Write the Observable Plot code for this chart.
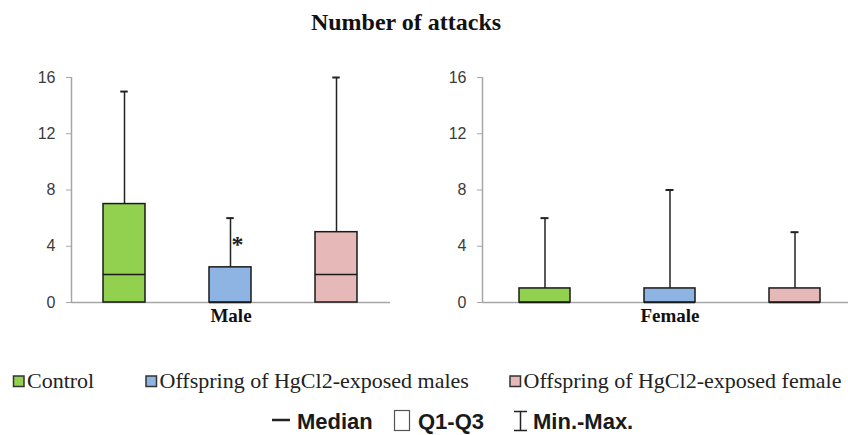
<!DOCTYPE html>
<html>
<head>
<meta charset="utf-8">
<script src="https://cdn.jsdelivr.net/npm/d3@7"></script>
<script src="https://cdn.jsdelivr.net/npm/@observablehq/plot@0.6"></script>
<style>
  html, body { margin: 0; padding: 0; background: #fff; overflow: hidden; }
  #root { position: relative; width: 848px; height: 435px; overflow: hidden; background: #fff; }
  .panel { position: absolute; top: 0; }
  #overlay { position: absolute; left: 0; top: 0; pointer-events: none; }
</style>
</head>
<body>
<div id="root"></div>
<script>
// ---- data ----
const title = "Number of attacks";
const groups = ["Male", "Female"];
const treatments = ["Control", "Offspring of HgCl2-exposed males", "Offspring of HgCl2-exposed female"];
const colors = ["#92D050", "#8DB4E2", "#E6B9B8"];
const yTicks = [0, 4, 8, 12, 16];

const maleMin = [0, 0, 0];
const maleQ1 = [0, 0, 0];
const maleMedian = [2, 0, 2];
const maleQ3 = [7, 2.5, 5];
const maleMax = [15, 6, 16];
const maleSignif = ["", "*", ""];

const femaleMin = [0, 0, 0];
const femaleQ1 = [0, 0, 0];
const femaleMedian = [0, 0, 0];
const femaleQ3 = [1, 1, 1];
const femaleMax = [6, 8, 5];
const femaleSignif = ["", "", ""];

const legendKeys = ["Median", "Q1-Q3", "Min.-Max."];

// ---- drawing ----
const root = document.getElementById("root");
const H = 340, MT = 77, MB = 38;
const serif = "'Liberation Serif', 'Times New Roman', serif";
const sans = "'Liberation Sans', Arial, sans-serif";

function panel(group, mins, q1s, meds, q3s, maxs, sig, cfg) {
  const rows = treatments.map((t, i) => ({
    treatment: t, min: mins[i], q1: q1s[i], median: meds[i], q3: q3s[i], max: maxs[i], sig: sig[i]
  }));
  const range = cfg.width - cfg.ml - cfg.mr;
  const pi = cfg.pi, po = pi / 2;
  const step = range / (treatments.length - pi + 2 * po);
  const bw = step * (1 - pi);
  const inset = (bw - 8) / 2;
  const plot = Plot.plot({
    width: cfg.width,
    height: H,
    marginLeft: cfg.ml,
    marginRight: cfg.mr,
    marginTop: MT,
    marginBottom: MB,
    style: { fontFamily: sans, fontSize: "16px", background: "transparent" },
    x: { domain: treatments, paddingInner: pi, paddingOuter: po, axis: null },
    y: { domain: [0, 16], axis: null },
    color: { domain: treatments, range: colors },
    marks: [
      Plot.ruleY([0], { stroke: "#a6a6a6", strokeWidth: 1.5 }),
      Plot.ruleX(rows, { x: "treatment", y1: "min", y2: "max", stroke: "#222", strokeWidth: 1.5 }),
      Plot.tickY(rows, { x: "treatment", y: "max", stroke: "#222", strokeWidth: 2, insetLeft: inset, insetRight: inset }),
      Plot.barY(rows, { x: "treatment", y1: "q1", y2: "q3", fill: "treatment", stroke: "#1a1a1a", strokeWidth: 1.5 }),
      Plot.tickY(rows, { x: "treatment", y: "median", stroke: "#1a1a1a", strokeWidth: 1.5 }),
      Plot.text(rows.filter(d => d.sig), { x: "treatment", y: "q3", text: "sig", dx: 7, dy: -23,
        fontSize: 24, fontWeight: "bold", fontFamily: serif, fill: "#222" }),
      Plot.axisY({ ticks: yTicks, tickSize: 5, tickPadding: 11, stroke: "#a6a6a6", fill: "#3a3a3a", fontSize: 16 }),
      Plot.text([group], { frameAnchor: "bottom", dy: 19, fontSize: 19, fontWeight: "bold",
        fontFamily: serif, fill: "#111" })
    ]
  });
  plot.classList.add("panel");
  plot.style.left = cfg.left + "px";
  plot.style.overflow = "visible";
  const y = plot.scale("y");
  d3.select(plot).append("line")
    .attr("x1", cfg.ml + 0.5).attr("x2", cfg.ml + 0.5)
    .attr("y1", y.apply(0)).attr("y2", y.apply(yTicks[yTicks.length - 1]))
    .attr("stroke", "#a6a6a6").attr("stroke-width", 1.5);
  root.appendChild(plot);
}

panel(groups[0], maleMin, maleQ1, maleMedian, maleQ3, maleMax, maleSignif,
  { left: 0, width: 400, ml: 71, mr: 10, pi: 0.6 });
panel(groups[1], femaleMin, femaleQ1, femaleMedian, femaleQ3, femaleMax, femaleSignif,
  { left: 410, width: 450, ml: 72, mr: 3, pi: 0.592 });

// ---- title & legend ----
const svg = d3.select(root).append("svg").attr("id", "overlay").attr("width", 848).attr("height", 435);
svg.append("text").text(title)
  .attr("x", 406).attr("y", 30).attr("text-anchor", "middle")
  .attr("font-family", serif)
  .attr("font-weight", "bold").attr("font-size", 24).attr("fill", "#111");

const legX = [13.5, 146, 510];
treatments.forEach((t, i) => {
  svg.append("rect").attr("x", legX[i]).attr("y", 376).attr("width", 10.5).attr("height", 10.5)
    .attr("fill", colors[i]).attr("stroke", "#333").attr("stroke-width", 1.5);
  svg.append("text").text(t).attr("x", legX[i] + 13.5).attr("y", 388)
    .attr("font-family", serif)
    .attr("font-size", 22).attr("fill", "#222");
});

svg.append("line").attr("x1", 272).attr("x2", 290).attr("y1", 420).attr("y2", 420)
  .attr("stroke", "#222").attr("stroke-width", 2.5);
svg.append("text").text(legendKeys[0]).attr("x", 297).attr("y", 429)
  .attr("font-family", sans).attr("font-weight", "bold").attr("font-size", 22).attr("fill", "#1a1a1a");
svg.append("rect").attr("x", 394.5).attr("y", 410.5).attr("width", 15).attr("height", 20)
  .attr("fill", "none").attr("stroke", "#555").attr("stroke-width", 1.2);
svg.append("text").text(legendKeys[1]).attr("x", 418).attr("y", 429)
  .attr("font-family", sans).attr("font-weight", "bold").attr("font-size", 22).attr("fill", "#1a1a1a");
svg.append("path").attr("d", "M514,411.5H527M520.5,411.5V430.5M514,430.5H527")
  .attr("fill", "none").attr("stroke", "#222").attr("stroke-width", 1.5);
svg.append("text").text(legendKeys[2]).attr("x", 533).attr("y", 429)
  .attr("font-family", sans).attr("font-weight", "bold").attr("font-size", 22).attr("fill", "#1a1a1a");
</script>
</body>
</html>
